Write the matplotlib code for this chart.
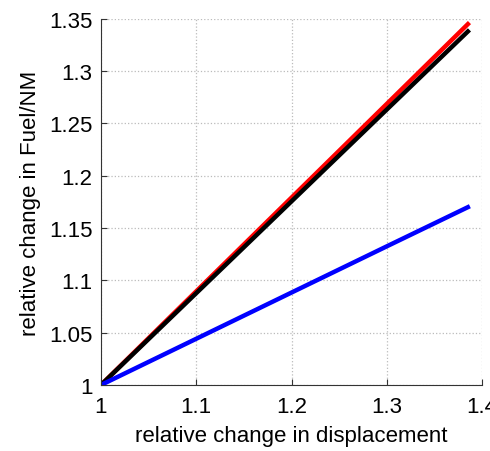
import numpy as np
import matplotlib
matplotlib.use('Agg')
import matplotlib.pyplot as plt

plt.rcParams['font.family'] = ['Liberation Sans', 'DejaVu Sans']

# relative change in displacement vs relative change in fuel per nautical mile
displacement = [1.0, 1.1, 1.2, 1.3, 1.385]
fuel_red = [1.0, 1.0896, 1.1792, 1.2688, 1.345]
fuel_black = [1.0, 1.0878, 1.1756, 1.2634, 1.338]
fuel_blue = [1.0, 1.0442, 1.0884, 1.1326, 1.170]

x_ticks = [1, 1.1, 1.2, 1.3, 1.4]
x_tick_labels = ['1', '1.1', '1.2', '1.3', '1.4']
y_ticks = [1, 1.05, 1.1, 1.15, 1.2, 1.25, 1.3, 1.35]
y_tick_labels = ['1', '1.05', '1.1', '1.15', '1.2', '1.25', '1.3', '1.35']

fig = plt.figure(figsize=(4.9, 4.52), dpi=100)
ax = fig.add_axes([0.206, 0.146, 0.778, 0.810])

ax.plot(displacement, fuel_red, color='#ff0000', linewidth=3.2)
ax.plot(displacement, fuel_black, color='black', linewidth=3.2)
ax.plot(displacement, fuel_blue, color='#0000ff', linewidth=3.2)

ax.set_xlim(1, 1.4)
ax.set_ylim(1, 1.35)
ax.set_xticks(x_ticks)
ax.set_xticklabels(x_tick_labels)
ax.set_yticks(y_ticks)
ax.set_yticklabels(y_tick_labels)
ax.tick_params(direction='in', labelsize=16, length=4, color='#333333')
ax.tick_params(axis='x', pad=8)
ax.tick_params(axis='y', pad=6)
ax.grid(True, linestyle=':', color='#bbbbbb', linewidth=0.9)
ax.set_axisbelow(True)

for side in ['top', 'right']:
    ax.spines[side].set_visible(False)
for side in ['left', 'bottom']:
    ax.spines[side].set_color('#333333')

ax.set_xlabel('relative change in displacement', fontsize=16, labelpad=6)
ax.set_ylabel('relative change in Fuel/NM', fontsize=16, labelpad=6)

fig.savefig('out.png', dpi=100)
